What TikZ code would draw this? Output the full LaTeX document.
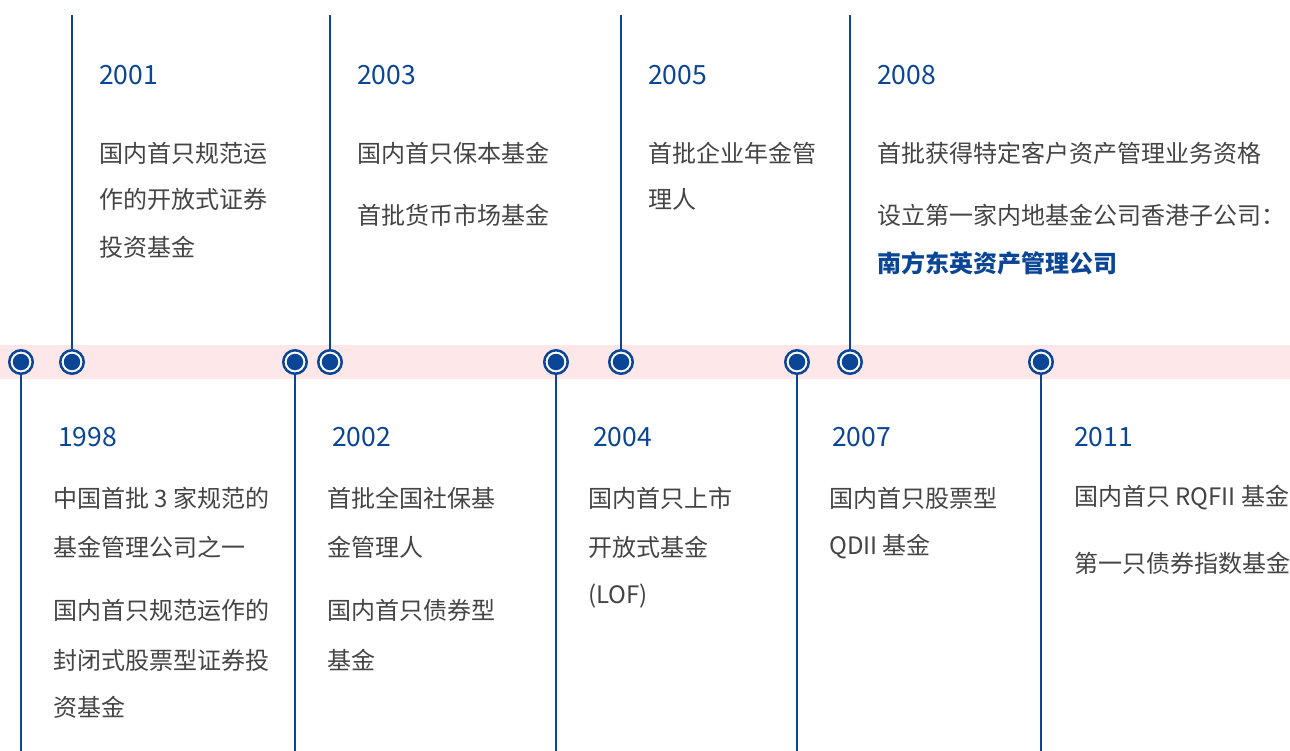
\documentclass[tikz,border=0pt]{standalone}
\usepackage{fontspec}
\setmainfont{Noto Sans CJK SC}
\definecolor{tlblue}{HTML}{0B4596}
\definecolor{tltext}{HTML}{444444}
\definecolor{tlband}{HTML}{FDE7E8}
\begin{document}
\begin{tikzpicture}[x=1pt,y=-1pt,
  stem/.style={draw=tlblue,line width=2.8pt},
  ring/.style={circle,draw=tlblue,line width=2.5pt,fill=white,minimum size=23.5pt,inner sep=0pt},
  dot/.style={circle,fill=tlblue,minimum size=16.5pt,inner sep=0pt},
  yr/.style={anchor=west,inner sep=0pt,text=tlblue,font=\fontsize{26.5}{32}\selectfont},
  txt/.style={anchor=west,inner sep=0pt,text=tltext,font=\fontsize{24}{29}\selectfont},
  hl/.style={anchor=west,inner sep=0pt,text=tlblue,font=\fontsize{24}{29}\selectfont\bfseries}]
\useasboundingbox (0,0) rectangle (1290,751);
\fill[tlband] (0,345) rectangle (1290,379);
% stems ends
\foreach \n/\x in {t2001/72,t2003/330,t2005/621,t2008/850}{\coordinate (\n) at (\x,15);}
\foreach \n/\x in {b1998/21,b2002/295,b2004/556,b2007/797,b2011/1041}{\coordinate (\n) at (\x,751);}
% markers
\foreach \n/\x in {m1998/21,m2001/72,m2002/295,m2003/330,m2004/556,m2005/621,m2007/797,m2008/850,m2011/1041}{
  \node[ring] (\n) at (\x,362) {};}
\foreach \a/\b in {t2001/m2001,t2003/m2003,t2005/m2005,t2008/m2008,b1998/m1998,b2002/m2002,b2004/m2004,b2007/m2007,b2011/m2011}{
  \draw[stem] (\a) -- (\b);}
\foreach \n/\x in {m1998/21,m2001/72,m2002/295,m2003/330,m2004/556,m2005/621,m2007/797,m2008/850,m2011/1041}{
  \node[dot] at (\n) {};}
% top texts
\node[yr] (y2001) at (99,75) {2001};
\node[txt] (a1) at (99,153) {国内首只规范运};
\node[txt] (a2) at (99,199) {作的开放式证券};
\node[txt] (a3) at (99,247) {投资基金};
\node[yr] (y2003) at (357,75) {2003};
\node[txt] (c1) at (357,153) {国内首只保本基金};
\node[txt] (c2) at (357,215) {首批货币市场基金};
\node[yr] (y2005) at (648,75) {2005};
\node[txt] (e1) at (648,153) {首批企业年金管};
\node[txt] (e2) at (648,199) {理人};
\node[yr] (y2008) at (877,75) {2008};
\node[txt] (h1) at (877,153) {首批获得特定客户资产管理业务资格};
\node[txt] (h2) at (877,215) {设立第一家内地基金公司香港子公司：};
\node[hl] (h3) at (877,263) {南方东英资产管理公司};
% bottom texts
\node[yr] (y1998) at (58,437) {1998};
\node[txt] (p1) at (53,498) {中国首批 3 家规范的};
\node[txt] (p2) at (53,547) {基金管理公司之一};
\node[txt] (p3) at (53,610) {国内首只规范运作的};
\node[txt] (p4) at (53,660) {封闭式股票型证券投};
\node[txt] (p5) at (53,707) {资基金};
\node[yr] (y2002) at (332,437) {2002};
\node[txt] (q1) at (327,498) {首批全国社保基};
\node[txt] (q2) at (327,547) {金管理人};
\node[txt] (q3) at (327,610) {国内首只债券型};
\node[txt] (q4) at (327,660) {基金};
\node[yr] (y2004) at (593,437) {2004};
\node[txt] (r1) at (588,498) {国内首只上市};
\node[txt] (r2) at (588,547) {开放式基金};
\node[txt] (r3) at (588,596) {(LOF)};
\node[yr] (y2007) at (832,437) {2007};
\node[txt] (s1) at (829,498) {国内首只股票型};
\node[txt] (s2) at (829,547) {QDII 基金};
\node[yr] (y2011) at (1074,437) {2011};
\node[txt] (u1) at (1074,498) {国内首只 RQFII 基金};
\node[txt] (u2) at (1074,563) {第一只债券指数基金};
\end{tikzpicture}
\end{document}
